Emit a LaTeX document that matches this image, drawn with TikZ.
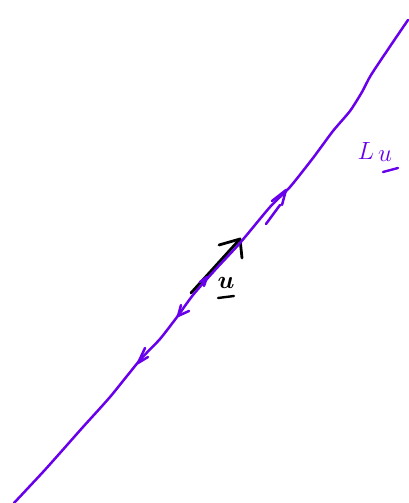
\documentclass[tikz,border=0pt]{standalone}
\usepackage{amsmath}
\definecolor{pen}{RGB}{104,0,236}
\begin{document}
\begin{tikzpicture}[x=1pt,y=-1pt,
  penline/.style={pen,line width=2.5pt,line cap=round,line join=round},
  inkline/.style={black,line width=2.8pt,line cap=round,line join=round},
  lbl/.style={inner sep=0pt}]
\useasboundingbox (0,0) rectangle (408,503);
% vector u (drawn first, beside the line)
\coordinate (ua) at (191,293);
\coordinate (ub) at (240,239);
\draw[inkline] (ua) -- (ub);
\draw[inkline] (219,245) -- (ub) -- (242,258);
% main line L_u
\draw[penline] plot[smooth,tension=0.4] coordinates{
 (14,503) (43,472) (60,453) (83,427) (110,397) (140,360) (160,339) (177,317)
 (193,295) (215,270) (240,243) (270,207) (290,187) (313,158) (333,131)
 (350,111) (362,92) (371,75) (393,42) (408,20)};
% arrowheads on the line
\coordinate (t1) at (286,190);
\draw[penline] (272,201) -- (t1) -- (282,205);
\draw[penline] (266,224) -- (280,205);
\coordinate (t2) at (207,277);
\draw[penline] (200,282) -- (t2) -- (204,286);
\coordinate (t3) at (178,316);
\draw[penline] (181,305) -- (t3) -- (189,311);
\coordinate (t4) at (138,363);
\draw[penline] (145,348) -- (t4) -- (148,357);
\node[lbl,font=\fontsize{30}{30}\selectfont] (ulab) at (226,283) {$\boldsymbol{u}$};
\draw[black,line width=2.4pt,line cap=round] (218,298) -- (234,296);
% label L_u
\node[lbl,pen,font=\fontsize{34}{34}\selectfont] (Llab) at (366,151) {$L$};
\node[lbl,pen,font=\fontsize{28}{28}\selectfont] (Lsub) at (385,156) {$u$};
\draw[pen,line width=2.4pt,line cap=round] (383,172) -- (398,168);
\end{tikzpicture}
\end{document}
